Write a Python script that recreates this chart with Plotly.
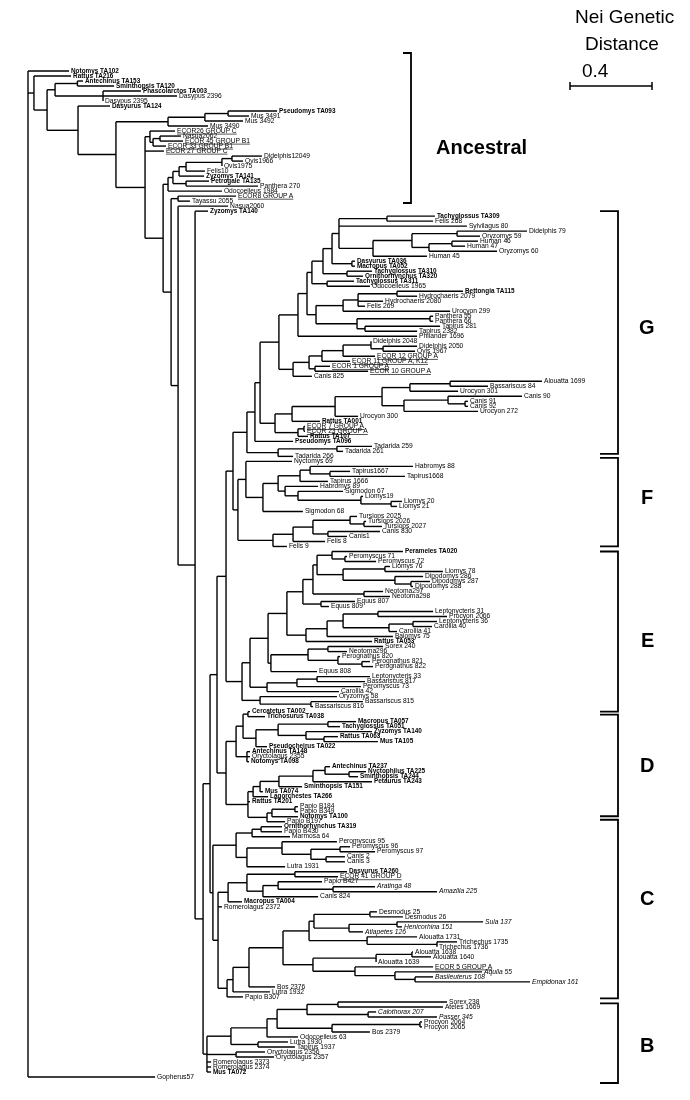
import plotly.graph_objects as go

# ============================ DATA ============================
# Depths are Nei genetic distances measured from the root of the tree.
# Leaf: ("label", depth)      Internal node: [depth, child, child, ...]

ancestral_marsupials = [0.132,
    [0.241, ("Antechinus TA153", 0.268), ("Sminthopsis TA120", 0.420)],
    [0.366, ("Phascolarctos TA003", 0.551), ("Dasypus 2396", 0.727), ("Dasypus 2395", 0.366)]]

ancestral_mus = [0.683,
    [0.863, [0.976, ("Pseudomys TA093", 1.215), ("Mus 3491", 1.078)], ("Mus 3492", 1.049)],
    ("Mus 3490", 0.878)]

ancestral_ecor = [0.595, ("ECOR26 GROUP C", 0.717),
    [0.610, [0.644, ("Nasua2062", 0.746), ("ECOR 45 GROUP B1", 0.756)], ("ECOR 33 GROUP B1", 0.673)]]

ancestral_mixed = [0.683,
    [0.707,
        [0.737,
            [0.771,
                [0.946, [0.995, ("Didelphis12049", 1.141), ("Ovis1966", 1.049)], ("Ovis1975", 0.946)],
                ("Felis10", 0.863)],
            ("Zyzomys TA141", 0.859)],
        [0.771, ("Petrogale TA135", 0.883), ("Panthera 270", 1.122)]],
    ("Odocoeileus 1984", 0.946)]

ancestral_ecor8 = [0.732, ("ECOR8 GROUP A", 1.015), ("Tayassu 2055", 0.790)]

clade_G = [1.068,
  [1.107,
    [1.132,
      [1.224,
        [1.317,
          [1.361,
            [1.385,
              [1.439,
                [1.483,
                  [1.517,
                    [1.751, ("Tachyglossus TA309", 1.985), ("Felis 268", 1.976)],
                    ("Sylvilagus 80", 2.141),
                    [1.683,
                      [1.873,
                        [2.093, ("Didelphis 79", 2.434), ("Oryzomys 59", 2.205)],
                        [1.956, [2.068, ("Human 46", 2.195), ("Human 47", 2.132)], ("Oryzomys 60", 2.288)]],
                      ("Human 45", 1.946)]],
                  [1.580, ("Dasyurus TA036", 1.595), ("Macropus TA052", 1.595)]],
                [1.556, ("Tachyglossus TA310", 1.678), ("Ornithorhynchus TA320", 1.634)]],
              [1.459, ("Tachyglossus TA311", 1.590), ("Odocoeileus 1965", 1.668)]],
            [1.405,
              [1.537,
                [1.610,
                  [1.800, ("Bettongia TA115", 2.122), ("Hydrochaeris 2079", 1.898)],
                  ("Hydrochaeris 2080", 1.732),
                  ("Felis 269", 1.644)],
                ("Urocyon 299", 2.059)],
              [1.605,
                [1.961, ("Panthera 55", 1.976), ("Panthera 66", 1.976)],
                [1.644, ("Tapirus 281", 2.010), ("Tapirus 2382", 1.898)]]]],
          ("Philander 1696", 1.898)],
        [1.293,
          [1.371,
            [1.434,
              [1.537,
                [1.673, ("Didelphis 2048", 1.673), [1.732, ("Didelphis 2050", 1.898), ("Ovis 1967", 1.888)]],
                ("ECOR 12 GROUP A", 1.693)],
              ("ECOR 11 GROUP A, K12", 1.571)],
            [1.400, ("ECOR 1 GROUP A", 1.473), ("ECOR 10 GROUP A", 1.659)]],
          ("Canis 825", 1.385)]],
      [1.205,
        [1.288,
          [1.498,
            [1.727,
              [1.863, [2.059, ("Alouatta 1699", 2.507), ("Bassariscus 84", 2.244)], ("Urocyon 301", 2.098)],
              [1.834, [2.049, ("Canis 90", 2.410), [2.132, ("Canis 91", 2.146), ("Canis 92", 2.146)]],
               ("Urocyon 272", 2.195)]],
            ("Urocyon 300", 1.610)],
          ("Rattus TA001", 1.424)],
        [1.317, [1.346, ("ECOR 7 GROUP A", 1.351), ("ECOR 23 GROUP A", 1.351)], ("Rattus TA107", 1.366)]]],
    ("Pseudomys TA096", 1.293)],
  [1.220, [1.507, ("Tadarida 259", 1.678), ("Tadarida 261", 1.537)], ("Tadarida 266", 1.293)]]

clade_F = [1.024,
  [1.063, ("Nyctomys 69", 1.288),
    [1.146,
      [1.220,
        [1.327,
          [1.376, ("Habromys 88", 1.878), [1.473, ("Tapirus1667", 1.571), ("Tapirus1668", 1.839)]],
          ("Tapirus 1666", 1.463)],
        [1.254, ("Habromys 89", 1.415),
          [1.317, ("Sigmodon 67", 1.537),
            [1.624, ("Liomys19", 1.634), [1.771, ("Liomys 20", 1.824), ("Liomys 21", 1.800)]]]]],
      ("Sigmodon 68", 1.341)]],
  [1.195,
    [1.293,
      [1.390,
        [1.571, ("Tursiops 2025", 1.605), [1.639, ("Tursiops 2026", 1.649), ("Tursiops 2027", 1.727)]],
        [1.463, ("Canis 830", 1.717), ("Canis1", 1.556)]],
      ("Felis 8", 1.449)],
    ("Felis 9", 1.263)]]

clade_E = [1.044,
  [1.083,
    [1.171,
      [1.263,
        [1.341,
          [1.390,
            [1.410,
              [1.483, ("Perameles TA020", 1.829), [1.546, ("Peromyscus 71", 1.556), ("Peromyscus 72", 1.698)]],
              [1.537,
                [1.741, ("Liomys 76", 1.766), ("Liomys 78", 2.024)],
                [1.790, ("Dipodomys 286", 1.927), [1.868, ("Dipodomys 287", 1.961), ("Dipodomys 288", 1.878)]]]],
            [1.639, ("Neotoma297", 1.732), ("Neotoma298", 1.766)]],
          [1.429, ("Equus 807", 1.595), ("Equus 809", 1.468)]],
        [1.356,
          [1.459,
            [1.537,
              [1.707, ("Leptonycteris 31", 1.976), ("Procyon 2066", 2.044)],
              [1.761, [1.878, ("Leptonycteris 36", 1.995), ("Carollia 40", 1.971)], ("Carollia 41", 1.800)]],
            ("Baiomys 75", 1.780)],
          ("Rattus TA053", 1.678)]],
      [1.185,
        [1.366,
          [1.463, ("Sorex 240", 1.732), ("Neotoma296", 1.556)],
          [1.512, ("Perognathus 820", 1.522), [1.629, ("Perognathus 821", 1.668), ("Perognathus 822", 1.683)]]],
        ("Equus 808", 1.410)]],
    [1.166,
      [1.312, [1.410, ("Leptonycteris 33", 1.668), ("Bassariscus 817", 1.644)], ("Peromyscus 73", 1.624)],
      ("Carollia 42", 1.517)]],
  [1.132, ("Oryzomys 58", 1.507), [1.380, ("Bassariscus 815", 1.634), ("Bassariscus 816", 1.390)]]]

clade_D = [0.966,
  [1.015,
    [1.049,
      [1.073, ("Cercatetus TA002", 1.083), ("Trichosurus TA038", 1.156)],
      [1.112,
        [1.220,
          [1.463, ("Macropus TA057", 1.600), ("Tachyglossus TA051", 1.522)],
          [1.356, ("Zyzomys TA140", 1.678), [1.444, ("Rattus TA063", 1.512), ("Mus TA105", 1.707)]]],
        ("Pseudocheirus TA022", 1.166)]],
    [1.068, ("Antechinus TA148", 1.083), ("Oryctolagus 2355", 1.083), ("Notomys TA098", 1.078)]],
  [1.073,
    [1.098,
      [1.132,
        [1.224,
          [1.390,
            [1.449, ("Antechinus TA237", 1.473), [1.566, ("Nyctophilus TA225", 1.649), ("Sminthopsis TA244", 1.610)]],
            ("Petaurus TA243", 1.678)],
          ("Sminthopsis TA151", 1.337)],
        ("Mus TA074", 1.146)],
      ("Lagorchestes TA266", 1.171)],
    ("Rattus TA201", 1.083),
    [1.166,
      [1.190, [1.302, ("Papio B184", 1.317), ("Papio B349", 1.317)], ("Notomys TA100", 1.317)],
      ("Papio B197", 1.254)]]]

clade_C_upper = [1.015,
  [1.093, [1.137, ("Ornithorhynchus TA319", 1.239), ("Papio B430", 1.239)], ("Marmosa 64", 1.278)],
  [1.068,
    [1.239, ("Peromyscus 95", 1.507),
      [1.380,
        [1.522, ("Peromyscus 96", 1.571), ("Peromyscus 97", 1.693)],
        [1.454, ("Canis 2", 1.546), ("Canis 3", 1.546)]]],
    ("Lutra 1931", 1.254)]]

clade_C_middle = [0.976,
  [1.068,
    [1.302, ("Dasyurus TA260", 1.556), ("ECOR 41 GROUP D", 1.512)],
    [1.146,
      [1.220, ("Papio B427", 1.434), [1.488, ("Aratinga 48", 1.693), ("Amazilia 225", 1.995)]],
      ("Canis 824", 1.415)]],
  ("Macropus TA004", 1.044)]

clade_C_lower = [0.971,
  [1.000,
    [1.078,
      [1.244,
        [1.371,
          [1.395,
            [1.668, ("Desmodus 25", 1.702), ("Desmodus 26", 1.829)],
            [1.566, [1.800, ("Sula 137", 2.220), ("Henicorhina 151", 1.824)], ("Atlapetes 126", 1.634)]],
          [1.654, ("Alouatta 1731", 1.898), [1.995, ("Trichechus 1735", 2.093), ("Trichechus 1736", 1.995)]]],
        [1.390,
          [1.698, [1.873, ("Alouatta 1638", 1.878), ("Alouatta 1640", 1.966)], ("Alouatta 1639", 1.698)],
          [1.595, ("ECOR 5 GROUP A", 1.976),
            [1.790, ("Aquila 55", 2.215), [1.888, ("Basileuterus 108", 1.976), ("Empidonax 161", 2.449)]]]]],
      ("Bos 2376", 1.205)],
    ("Lutra 1932", 1.180)],
  ("Papio B307", 1.049)]

clade_B_main = [0.990,
  [1.166,
    [1.215,
      [1.361,
        [1.512, ("Sorex 238", 2.044), ("Ateles 1669", 2.024)],
        [1.659, ("Calothorax 207", 1.698), ("Passer 345", 1.995)]],
      [1.483, [1.912, ("Procyon 2064", 1.922), ("Procyon 2065", 1.922)], ("Bos 2379", 1.668)]],
    ("Odocoeileus 63", 1.317)],
  [1.122, ("Lutra 1930", 1.268), ("Tapirus 1937", 1.302)]]

clade_B_rabbits = [1.015, ("Oryctolagus 2356", 1.156), ("Oryctolagus 2357", 1.200)]

# backbone (ladder) joining the clusters
node_B = [0.873, clade_B_main, clade_B_rabbits,
          ("Romerolagus 2373", 0.893), ("Romerolagus 2374", 0.893), ("Mus TA072", 0.893)]
node_C = [0.902, clade_C_upper, [0.927, clade_C_middle, ("Romerolagus 2372", 0.946), clade_C_lower]]
node_GFED = [0.922, [0.966, [1.000, clade_G, clade_F], clade_E], clade_D]
node_main = [0.815, ("Zyzomys TA140", 0.878), [0.854, [0.888, node_GFED, node_C], node_B]]
node_anc = [0.244, ("Dasyurus TA124", 0.400),
  [0.429, ancestral_mus,
    [0.571, ancestral_ecor, ("ECOR 27 GROUP C", 0.663),
      [0.659, ancestral_mixed,
        [0.698, ancestral_ecor8,
          [0.732, ("Nasua2060", 0.976), node_main]]]]]]
tree = [0.0, ("Notomys TA102", 0.200),
        [0.029, ("Rattus TA216", 0.210), [0.093, ancestral_marsupials, node_anc]],
        ("Gopherus57", 0.620)]

italic_names = ["Aratinga 48", "Amazilia 225", "Sula 137", "Henicorhina 151", "Atlapetes 126",
                "Aquila 55", "Basileuterus 108", "Empidonax 161", "Calothorax 207", "Passer 345"]
group_letters = ["G", "F", "E", "D", "C", "B"]
scale_bar_value = 0.4

# ============================ LAYOUT ============================
W, H = 690, 1100
PX_PER_UNIT = 205.0
ROOT_PX = 28.0
TOP_PX, BOTTOM_PX = 71.0, 1077.0

leaves = []
seg_x, seg_y = [], []


def place(node):
    if isinstance(node, tuple):
        leaves.append(node)
        return node[1], float(len(leaves) - 1)
    d = node[0]
    ys = []
    for ch in node[1:]:
        cx, cy = place(ch)
        seg_x.extend([d, cx, None])
        seg_y.extend([cy, cy, None])
        ys.append(cy)
    seg_x.extend([d, d, None])
    seg_y.extend([min(ys), max(ys), None])
    return d, (min(ys) + max(ys)) / 2.0


place(tree)
N = len(leaves)
STEP = (BOTTOM_PX - TOP_PX) / (N - 1)


def px2x(px):
    return (px - ROOT_PX) / PX_PER_UNIT


def px2y(py):
    return (py - TOP_PX) / STEP


fig = go.Figure()
fig.add_trace(go.Scatter(x=seg_x, y=seg_y, mode="lines",
                         line=dict(color="black", width=1.4), hoverinfo="skip"))

gap = 2.0 / PX_PER_UNIT
styles = {"regular": [], "bold": [], "italic": [], "under": []}
for i, (name, d) in enumerate(leaves):
    if name in italic_names:
        key = "italic"
    elif name.startswith("ECOR"):
        key = "under"
    elif " TA" in name:
        key = "bold"
    else:
        key = "regular"
    styles[key].append((d + gap, i, name))

FONT = "Liberation Sans, Arial, sans-serif"
font_cfg = {
    "regular": dict(family=FONT, size=6.7, color="#000000"),
    "bold": dict(family=FONT, size=6.4, color="#000000", weight="bold"),
    "italic": dict(family=FONT, size=6.7, color="#000000", style="italic"),
    "under": dict(family=FONT, size=6.7, color="#000000", lineposition="under"),
}
for key, items in styles.items():
    if not items:
        continue
    fig.add_trace(go.Scatter(x=[t[0] for t in items], y=[t[1] for t in items],
                             text=[t[2] for t in items], mode="text",
                             textposition="middle right", textfont=font_cfg[key],
                             hoverinfo="skip"))

# group brackets (in leaf-index units)
bracket_top = [28.0, 77.3, 96.0, 128.6, 149.6, 186.3]
bracket_bot = [76.5, 95.0, 128.0, 148.9, 185.3, 202.2]
letter_y_px = [327, 497, 640, 765, 898, 1045]
bx_vert, bx_tick = px2x(618), px2x(600)
bxs, bys = [], []
for t, b in zip(bracket_top, bracket_bot):
    bxs += [bx_tick, bx_vert, bx_vert, bx_tick, None]
    bys += [t, t, b, b, None]
# Ancestral bracket
ax_vert, ax_tick = px2x(411), px2x(403)
bxs += [ax_tick, ax_vert, ax_vert, ax_tick, None]
bys += [px2y(53), px2y(53), px2y(203), px2y(203), None]
fig.add_trace(go.Scatter(x=bxs, y=bys, mode="lines", line=dict(color="black", width=1.8),
                         hoverinfo="skip"))

for letter, ly in zip(group_letters, letter_y_px):
    fig.add_annotation(x=px2x(647), y=px2y(ly), text="<b>%s</b>" % letter, showarrow=False,
                       xanchor="center", yanchor="middle",
                       font=dict(family=FONT, size=20, color="black"))
fig.add_annotation(x=px2x(434), y=px2y(147), text="<b>Ancestral</b>", showarrow=False,
                   xanchor="left", yanchor="middle", font=dict(family=FONT, size=20, color="black"))

# scale bar
sb0 = px2x(570)
sb1 = sb0 + scale_bar_value
yb = px2y(86)
tk = 0.8
fig.add_trace(go.Scatter(x=[sb0, sb1, None, sb0, sb0, None, sb1, sb1],
                         y=[yb, yb, None, yb - tk, yb + tk, None, yb - tk, yb + tk],
                         mode="lines", line=dict(color="black", width=1.5), hoverinfo="skip"))
fig.add_annotation(x=px2x(624), y=px2y(16), text="Nei Genetic", showarrow=False, xanchor="center",
                   yanchor="middle", font=dict(family=FONT, size=19, color="black"))
fig.add_annotation(x=px2x(622), y=px2y(43), text="Distance", showarrow=False, xanchor="center",
                   yanchor="middle", font=dict(family=FONT, size=19, color="black"))
fig.add_annotation(x=px2x(580), y=px2y(70), text=str(scale_bar_value), showarrow=False,
                   xanchor="left", yanchor="middle", font=dict(family=FONT, size=19, color="black"))

fig.update_layout(
    width=W, height=H, margin=dict(l=0, r=0, t=0, b=0),
    paper_bgcolor="white", plot_bgcolor="white", showlegend=False,
    xaxis=dict(range=[px2x(0), px2x(W)], visible=False, fixedrange=True),
    yaxis=dict(range=[px2y(H), px2y(0)], visible=False, fixedrange=True),
)

fig.write_html("out.html", config={"displayModeBar": False},
               post_script=("document.body.style.margin='0px';"
                            "document.querySelectorAll('svg.main-svg').forEach(function(s)"
                            "{s.style.willChange='transform';});"))
